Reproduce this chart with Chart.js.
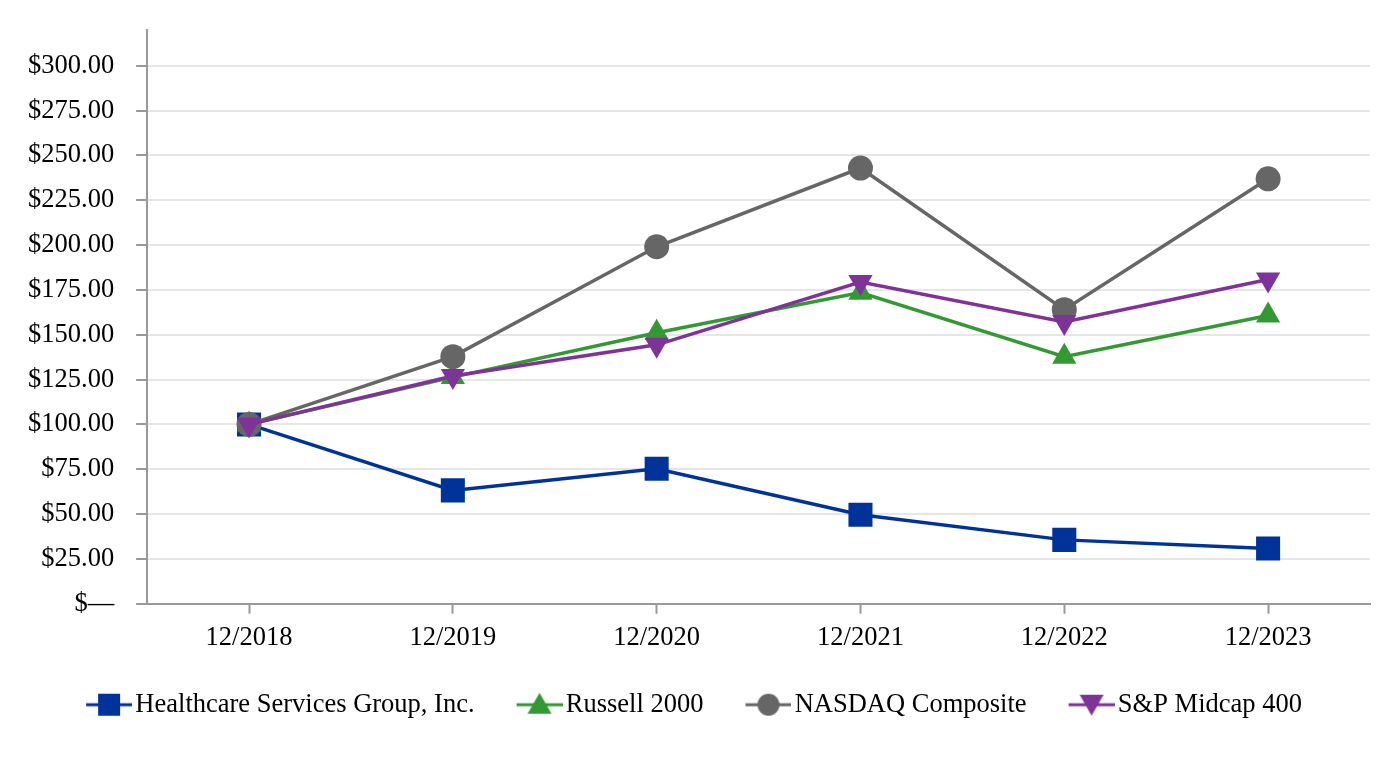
<!DOCTYPE html>
<html>
<head>
<meta charset="utf-8">
<script src="https://cdn.jsdelivr.net/npm/chart.js@4.4.1/dist/chart.umd.min.js"></script>
<style>
  html, body { margin: 0; padding: 0; background: #fff; }
  #wrap { width: 1400px; height: 760px; position: relative; }
</style>
</head>
<body>
<div id="wrap"><canvas id="returnsChart"></canvas></div>
<script>
const years = ['12/2018', '12/2019', '12/2020', '12/2021', '12/2022', '12/2023'];
const healthcare = [100, 63.2, 75.3, 49.6, 35.6, 30.8];
const russell = [100, 126.4, 151.1, 173.5, 137.8, 160.8];
const nasdaq = [100, 137.8, 199.1, 243.0, 164.0, 237.0];
const midcap = [100, 127.0, 144.4, 179.4, 157.1, 180.8];
const yTicks = [0, 25, 50, 75, 100, 125, 150, 175, 200, 225, 250, 275, 300];

const serif = '"Liberation Serif", "Times New Roman", serif';
const axisGray = '#999999';

// line + marker picture for the legend; the left 22px stay empty so the
// items get more room between them than the vertical legend padding
function legendIcon(color, shape) {
    const c = document.createElement('canvas');
    c.width = 68;
    c.height = 26;
    const ctx = c.getContext('2d');
    const ox = 22;
    ctx.strokeStyle = color;
    ctx.fillStyle = color;
    ctx.lineWidth = 3;
    ctx.beginPath();
    ctx.moveTo(ox, 13);
    ctx.lineTo(ox + 46, 13);
    ctx.stroke();
    ctx.beginPath();
    if (shape === 'rect') {
        ctx.rect(ox + 12, 2, 22, 22);
    } else if (shape === 'circle') {
        ctx.arc(ox + 23, 13, 11, 0, Math.PI * 2);
    } else if (shape === 'up') {
        ctx.moveTo(ox + 23, 1);
        ctx.lineTo(ox + 35, 22);
        ctx.lineTo(ox + 11, 22);
        ctx.closePath();
    } else {
        ctx.moveTo(ox + 11, 3);
        ctx.lineTo(ox + 35, 3);
        ctx.lineTo(ox + 23, 24);
        ctx.closePath();
    }
    ctx.fill();
    return c;
}

const series = [
    { label: 'Healthcare Services Group, Inc.', data: healthcare, color: '#003399', style: 'rect', rot: 0, r: 17, icon: 'rect', order: 4 },
    { label: 'Russell 2000', data: russell, color: '#339933', style: 'triangle', rot: 0, r: 14, icon: 'up', order: 3 },
    { label: 'NASDAQ Composite', data: nasdaq, color: '#666666', style: 'circle', rot: 0, r: 12.5, icon: 'circle', order: 2 },
    { label: 'S&P Midcap 400', data: midcap, color: '#7f3399', style: 'triangle', rot: 180, r: 14, icon: 'down', order: 1 },
];

const canvasElementForReturns = document.getElementById('returnsChart');

let configReturns = {
    type: 'line',
    data: {
        labels: years,
        datasets: series.map(s => ({
            label: s.label,
            data: s.data,
            borderColor: s.color,
            backgroundColor: s.color,
            borderWidth: 3.5,
            pointStyle: s.style,
            pointRotation: s.rot,
            pointRadius: s.r,
            pointHoverRadius: s.r,
            pointBorderWidth: 0,
            pointBackgroundColor: s.color,
            tension: 0,
            order: s.order,
        })),
    },
    options: {
        responsive: true,
        maintainAspectRatio: false,
        animation: false,
        layout: { padding: { left: 6, right: 30, top: 30, bottom: 32 } },
        scales: {
            x: {
                offset: true,
                grid: {
                    drawOnChartArea: false,
                    drawTicks: true,
                    tickLength: 10,
                    tickColor: axisGray,
                    tickWidth: 2,
                },
                border: { color: axisGray, width: 2 },
                ticks: {
                    color: '#000',
                    padding: 8,
                    maxRotation: 0,
                    font: { family: serif, size: 26.5 },
                },
            },
            y: {
                min: 0,
                max: 320,
                afterBuildTicks: axis => { axis.ticks = yTicks.map(v => ({ value: v })); },
                afterFit: axis => { axis.paddingTop = 0; },
                grid: {
                    color: '#e6e6e6',
                    lineWidth: 2,
                    tickLength: 11,
                    tickColor: axisGray,
                    tickWidth: 2,
                },
                border: { color: axisGray, width: 2 },
                ticks: {
                    color: '#000',
                    padding: 22,
                    font: { family: serif, size: 26.5 },
                    callback: v => v === 0 ? '$—' : '$' + v.toFixed(2),
                },
            },
        },
        plugins: {
            tooltip: { enabled: false },
            legend: {
                position: 'bottom',
                labels: {
                    usePointStyle: true,
                    pointStyleWidth: 48,
                    padding: 30,
                    color: '#000',
                    font: { family: serif, size: 26.5 },
                    generateLabels: chart => chart.data.datasets.map((ds, i) => ({
                        text: ds.label,
                        pointStyle: legendIcon(series[i].color, series[i].icon),
                        fillStyle: series[i].color,
                        strokeStyle: series[i].color,
                        lineWidth: 0,
                        hidden: false,
                        datasetIndex: i,
                    })),
                },
            },
        },
    },
};
const returnsChart = new Chart(canvasElementForReturns, configReturns);
</script>
</body>
</html>
